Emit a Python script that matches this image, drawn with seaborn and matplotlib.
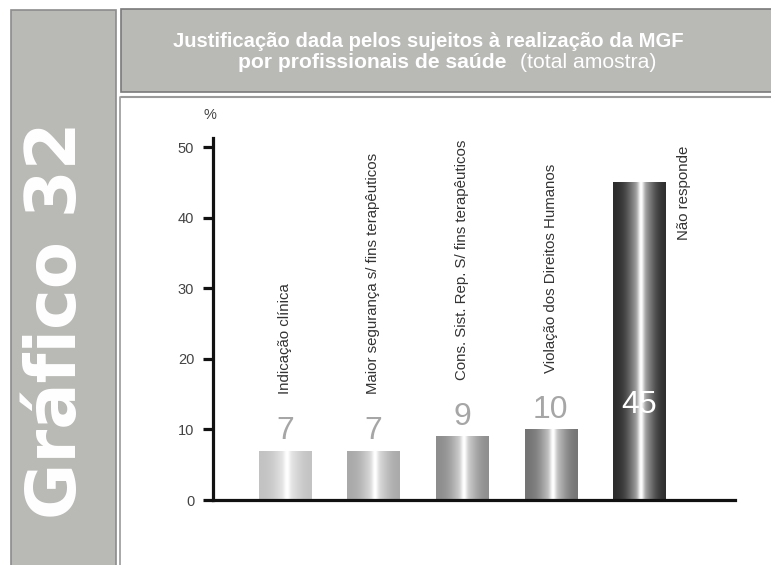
import numpy as np
import matplotlib
matplotlib.use('Agg')
import matplotlib.pyplot as plt
import seaborn as sns
from matplotlib.patches import Rectangle
from matplotlib.lines import Line2D

# ==================== Data ==================== #
categories = ['Indicação clínica',
              'Maior segurança s/ fins terapêuticos',
              'Cons. Sist. Rep. S/ fins terapêuticos',
              'Violação dos Direitos Humanos',
              'Não responde']
values = [7, 7, 9, 10, 45]
yticks = [0, 10, 20, 30, 40, 50]

title_line1 = 'Justificação dada pelos sujeitos à realização da MGF'
title_line2_bold = 'por profissionais de saúde'
title_line2_rest = '(total amostra)'
side_label = 'Gráfico 32'
unit_label = '%'

# gray level at the edge of each bar (cylinder shading)
bar_tones = [0.76, 0.66, 0.55, 0.45, 0.17]

W, H = 771, 565


def fx(px):
    return px / W


def fy(py):
    return 1 - py / H


sns.set_style('ticks')
plt.rcParams['font.family'] = ['Liberation Sans', 'DejaVu Sans']

fig = plt.figure(figsize=(W / 100, H / 100), dpi=100)
fig.patch.set_facecolor('white')

# ==================== Frame panels ==================== #
fig.add_artist(Rectangle((fx(11), -0.01), fx(116) - fx(11), fy(10) + 0.01,
                         transform=fig.transFigure, fc='#b9b9b6', ec='#8c8c8c', lw=1.2))
fig.add_artist(Rectangle((fx(121), fy(92)), 1.0 - fx(121) + 0.01, fy(9) - fy(92),
                         transform=fig.transFigure, fc='#b9b9b6', ec='#7a7a7a', lw=1.2))
fig.add_artist(Line2D([fx(121), 1.0], [fy(97), fy(97)], transform=fig.transFigure,
                      color='#9a9a9a', lw=1.5))
fig.add_artist(Line2D([fx(120), fx(120)], [0, fy(97)], transform=fig.transFigure,
                      color='#9a9a9a', lw=1.2))

fig.text(fx(57), fy(320), side_label, rotation=90, ha='center', va='center',
         color='white', fontsize=49.5, fontweight='bold', family='DejaVu Sans')

fig.text(fx(428), fy(47), title_line1, ha='center', va='baseline',
         color='white', fontsize=14.6, fontweight='bold')
t_bold = fig.text(fx(238), fy(68), title_line2_bold, ha='left', va='baseline',
                  color='white', fontsize=15.2, fontweight='bold')
renderer = fig.canvas.get_renderer()
bb = t_bold.get_window_extent(renderer=renderer)
fig.text((bb.x1 + 14) / W, fy(68), title_line2_rest, ha='left', va='baseline',
         color='white', fontsize=15.2)

# ==================== Bars ==================== #
ax = fig.add_axes([fx(213), fy(500), fx(735) - fx(213), fy(138) - fy(500)])
ax.set_facecolor('none')
sns.barplot(x=categories, y=values, ax=ax, width=0.59, color='#cccccc',
            saturation=1, edgecolor='none')

t = np.linspace(0, 1, 200)
for patch, tone in zip(ax.patches, bar_tones):
    x0 = patch.get_x()
    w = patch.get_width()
    h = patch.get_height()
    shade = tone + (1 - tone) * (0.6 * np.exp(-((t - 0.53) / 0.25) ** 2)
                                 + 0.4 * np.exp(-((t - 0.53) / 0.06) ** 2))
    shade = np.clip(shade, 0, 1)
    img = np.tile(shade, (2, 1))
    im = ax.imshow(img, cmap='gray', vmin=0, vmax=1, extent=(x0, x0 + w, 0, h),
                   aspect='auto', zorder=patch.get_zorder() + 0.1,
                   interpolation='bilinear')
    im.set_clip_path(patch)

# value and category labels
top_value = max(values)
for i, (cat, v) in enumerate(zip(categories, values)):
    if v == top_value:
        ax.text(i, 12.3, str(v), ha='center', va='baseline', fontsize=23,
                color='white', zorder=5)
        ax.text(i + 0.5, 50.2, cat, rotation=90, ha='center', va='top',
                fontsize=10.8, color='#333333')
    else:
        ax.text(i, v + 1.6, str(v), ha='center', va='baseline', fontsize=23,
                color='#a6a6a6', zorder=5)
        ax.text(i, v + 8.0, cat, rotation=90, ha='center', va='bottom',
                fontsize=10.8, color='#333333')

ax.text(-0.006, 1.063, unit_label, transform=ax.transAxes, ha='center',
        va='center', fontsize=10.5, color='#444444')

# ==================== Axes styling ==================== #
ax.set_xlim(-0.81, 5.08)
ax.set_ylim(0, 51.3)
ax.set_xticks([])
ax.set_yticks(yticks)
ax.set_xlabel('')
ax.set_ylabel('')
for side in ['top', 'right']:
    ax.spines[side].set_visible(False)
for side in ['left', 'bottom']:
    ax.spines[side].set_linewidth(2.3)
    ax.spines[side].set_color('#111111')
ax.tick_params(axis='y', length=7.5, width=2.3, pad=6, labelsize=10.5,
               labelcolor='#444444', color='#111111')

fig.savefig('out.png', dpi=100)
